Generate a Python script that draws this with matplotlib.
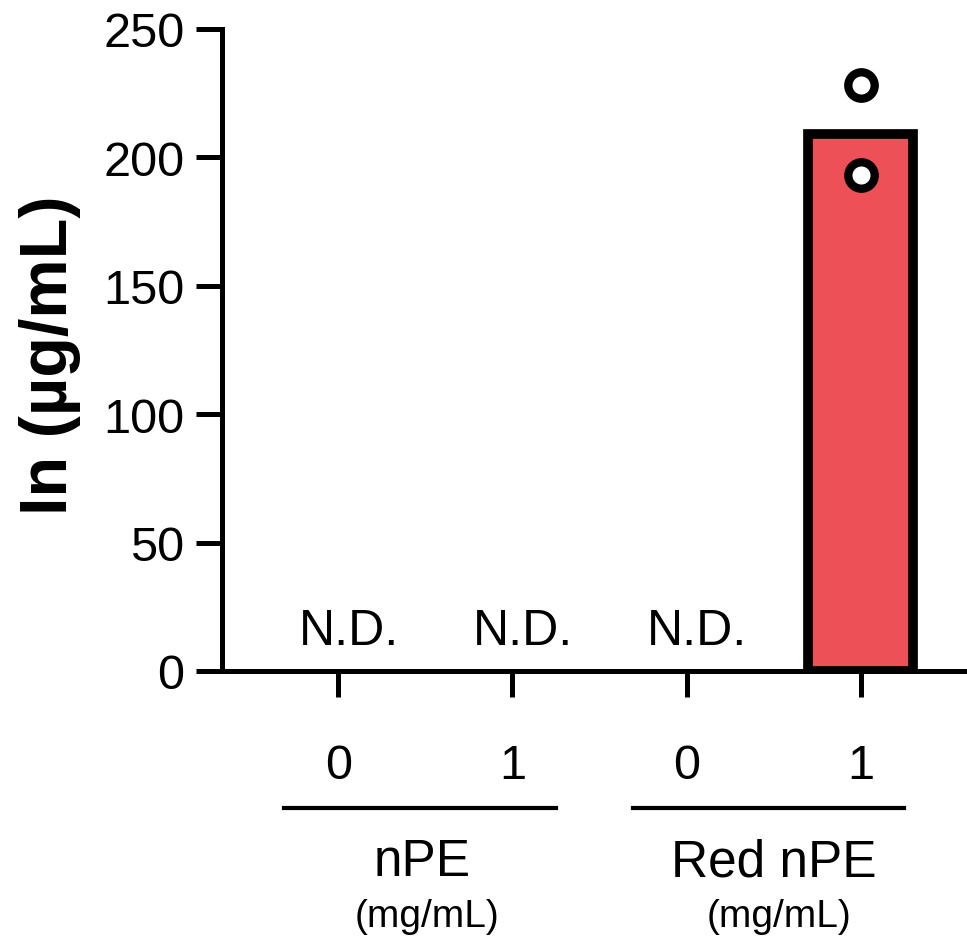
import matplotlib
matplotlib.use("Agg")
import matplotlib.pyplot as plt
from matplotlib.transforms import blended_transform_factory

plt.rcParams['font.family'] = ['Liberation Sans', 'DejaVu Sans']

# ---- data ----
dose_labels = ["0", "1", "0", "1"]
group_names = ["nPE", "Red nPE"]
group_units = ["(mg/mL)", "(mg/mL)"]
bar_means = [0, 0, 0, 209]
detected = [False, False, False, True]
points_x = [3, 3]
points_y = [228, 193]
nd_text = "N.D."
ylabel = "In (µg/mL)"
yticks = [0, 50, 100, 150, 200, 250]

bar_color = "#EE5057"

fig = plt.figure(figsize=(9.67, 9.37), dpi=100)
ax = fig.add_axes([222/967, 1 - 672/937, 1 - 222/967, (672 - 30)/937])

xs = list(range(len(dose_labels)))
for x, m, d in zip(xs, bar_means, detected):
    if d:
        ax.bar(x, m, width=0.6, color=bar_color, edgecolor="black",
               linewidth=7, zorder=2)
    else:
        ax.text(x + 0.06, 10.5, nd_text, ha="center", va="baseline",
                fontsize=36)

ax.plot(points_x, points_y, linestyle="none", marker="o", markersize=19,
        markerfacecolor="white", markeredgecolor="black",
        markeredgewidth=6, zorder=3, clip_on=False)

ax.set_xlim(-0.667, 3.61)
ax.set_ylim(0, 250)
ax.set_yticks(yticks)
ax.set_yticklabels([str(t) for t in yticks], fontsize=35)
ax.set_xticks(xs)
ax.set_xticklabels(dose_labels, fontsize=35)

for s in ["top", "right"]:
    ax.spines[s].set_visible(False)
for s in ["left", "bottom"]:
    ax.spines[s].set_linewidth(3.6)
ax.tick_params(axis="y", length=19, width=3.6, pad=8)
ax.tick_params(axis="x", length=19, width=3.6, pad=33)
ax.xaxis.set_tick_params(direction="out")

fig.text(50/967, 1 - 355/937, ylabel, rotation=90, ha="center", va="center",
         fontsize=48, fontweight="bold")

# group lines and labels
trans = blended_transform_factory(ax.transData, fig.transFigure)
group_spans = [(-0.31, 1.25), (1.69, 3.25)]
group_centers = [0.48, 2.5]
for (x0, x1), name, unit, c in zip(group_spans, group_names, group_units, group_centers):
    ax.plot([x0, x1], [1 - 809/937] * 2, color="black", linewidth=3,
            transform=trans, clip_on=False)
    ax.text(c, 1 - 863/937, name, ha="center", va="center", fontsize=37,
            transform=trans)
    ax.text(c + 0.03, 1 - 917/937, unit, ha="center", va="center", fontsize=28,
            transform=trans)

fig.savefig("out.png", dpi=100)
